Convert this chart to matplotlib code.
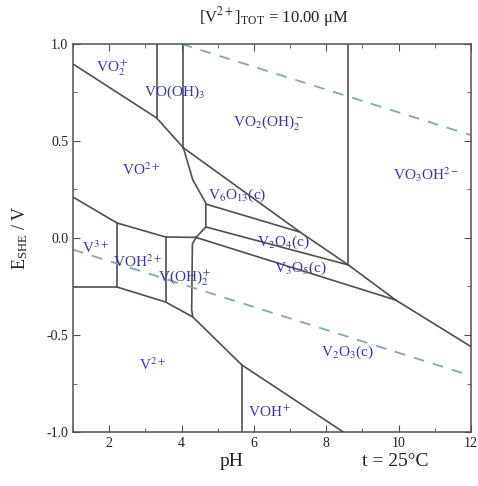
import matplotlib
matplotlib.use("Agg")
from matplotlib import pyplot as plt

# boundary lines of the predominance diagram (pH, E in V)
bound_ph = [
    [1.0, 3.31, 4.05],                 # VO2+ / VO2+
    [3.31, 3.31],                      # VO2+ / VO(OH)3
    [4.05, 4.05],                      # VO(OH)3 / VO2(OH)2-
    [4.05, 7.28, 8.61, 9.92, 12.0],    # V(V) / solids
    [4.05, 4.31, 4.67, 4.67, 4.40],    # VO2+ / solids
    [4.67, 7.28],                      # V6O13 / V2O4
    [4.67, 8.61],                      # V2O4 / V3O5
    [4.40, 9.92],                      # V3O5 / V2O3
    [1.0, 2.22],                       # VO2+ / V3+
    [2.22, 3.56, 4.40],                # VO2+ / VOH2+, V(OH)2+
    [4.40, 4.30, 4.28, 4.31],          # V(OH)2+ / V2O3
    [2.22, 2.22],                      # V3+ / VOH2+
    [3.56, 3.56],                      # VOH2+ / V(OH)2+
    [1.0, 2.22],                       # V3+ / V2+
    [2.22, 3.56, 4.31, 5.67, 8.47],    # V2+ , VOH+ upper boundary
    [5.67, 5.67],                      # V2+ / VOH+
    [8.61, 8.61],                      # VO2(OH)2- / VO3OH2-
]
bound_e = [
    [0.897, 0.619, 0.465],
    [0.619, 1.0],
    [0.465, 1.0],
    [0.465, 0.03, -0.139, -0.32, -0.56],
    [0.465, 0.30, 0.18, 0.057, 0.003],
    [0.175, 0.03],
    [0.057, -0.139],
    [0.003, -0.32],
    [0.211, 0.077],
    [0.077, 0.005, 0.003],
    [0.003, -0.03, -0.37, -0.407],
    [0.077, -0.253],
    [0.005, -0.33],
    [-0.253, -0.253],
    [-0.253, -0.33, -0.407, -0.655, -1.0],
    [-0.655, -1.0],
    [-0.139, 1.0],
]

# water stability lines
h2_ph = [1.0, 12.0]
h2_e = [-0.06, -0.71]
o2_ph = [4.0, 12.0]
o2_e = [1.0, 0.53]

# region labels
label_text = [r"VO$_2^+$", r"VO(OH)$_3$", r"VO$_2$(OH)$_2^-$", r"VO$_3$OH$^{2-}$",
              r"VO$^{2+}$", r"V$_6$O$_{13}$(c)", r"V$_2$O$_4$(c)", r"V$_3$O$_5$(c)",
              r"V$^{3+}$", r"VOH$^{2+}$", r"V(OH)$_2^+$", r"V$^{2+}$",
              r"VOH$^+$", r"V$_2$O$_3$(c)"]
label_ph = [2.08, 3.8, 6.39, 10.75, 2.89, 5.53, 6.83, 7.28, 1.61, 2.78, 4.08, 3.19, 6.44, 8.58]
label_e = [0.876, 0.75, 0.59, 0.325, 0.35, 0.22, -0.02, -0.155, -0.05, -0.124, -0.21, -0.655, -0.9, -0.59]

plt.rcParams['font.family'] = ['Liberation Serif', 'DejaVu Serif']
plt.rcParams['mathtext.fontset'] = 'stix'

fig = plt.figure(figsize=(4.78, 4.86), dpi=100)
ax = fig.add_axes([0.1527, 0.1111, 0.8327, 0.7984])

line_col = '#505050'
for xs, ys in zip(bound_ph, bound_e):
    ax.plot(xs, ys, color=line_col, lw=1.2, solid_joinstyle='miter')

ax.plot(h2_ph, h2_e, color='#7fa9b5', lw=1.3, dashes=(6, 5))
ax.plot(o2_ph, o2_e, color='#7fa9b5', lw=1.3, dashes=(6, 5))

for t, x, y in zip(label_text, label_ph, label_e):
    ax.text(x, y, t, color='#3636b0', fontsize=11, ha='center', va='center')

ax.set_xlim(1, 12)
ax.set_ylim(-1, 1)
ax.set_xticks([2, 4, 6, 8, 10, 12])
ax.set_xticks(range(1, 13), minor=True)
ax.set_yticks([-1.0, -0.5, 0.0, 0.5, 1.0])
ax.set_yticklabels(['-1.0', '-0.5', '0.0', '0.5', '1.0'])
ax.set_yticks([-0.75, -0.25, 0.25, 0.75], minor=True)
ax.tick_params(which='both', direction='in', top=True, right=True, colors=line_col,
               labelcolor='#222222', labelsize=10)
ax.tick_params(which='major', length=5)
ax.tick_params(which='minor', length=3)
for s in ax.spines.values():
    s.set_color(line_col)
    s.set_linewidth(1.1)

fig.text(0.572, 0.965, r"[V$^{2+}$]$_{\mathregular{TOT}}$ = 10.00 $\mathregular{\mu}$M",
         ha='center', va='center', fontsize=12, color='#222222')
fig.text(0.042, 0.51, r"E$_{\mathregular{SHE}}$ / V", rotation=90, ha='center', va='center',
         fontsize=13, color='#222222')
fig.text(0.485, 0.05, "pH", ha='center', va='center', fontsize=14, color='#222222')
fig.text(0.826, 0.05, "t = 25°C", ha='center', va='center', fontsize=14, color='#222222')

fig.savefig("out.png", dpi=100)
